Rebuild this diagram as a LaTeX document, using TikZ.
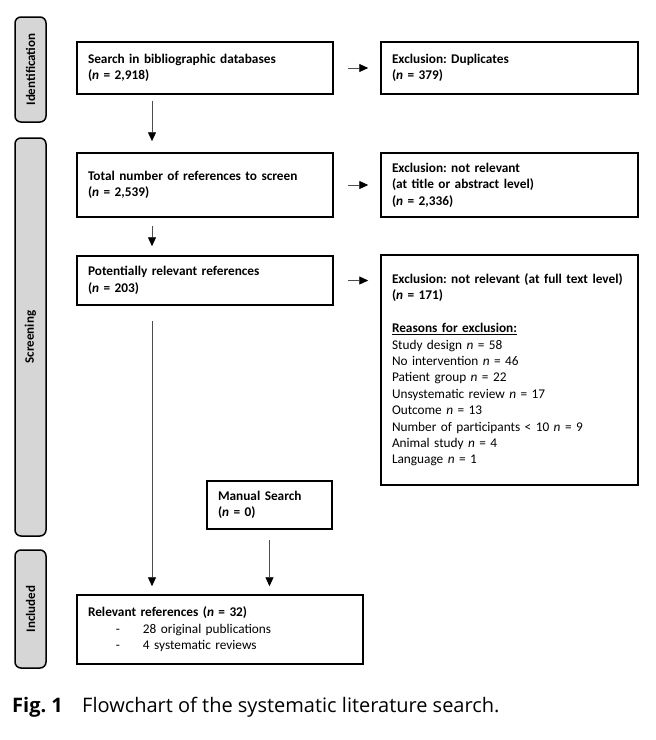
\documentclass[tikz,border=0pt]{standalone}
\usepackage{fontspec}
\setmainfont{Carlito}
\newfontfamily\capfont{Open Sans}
\usetikzlibrary{arrows.meta}
\definecolor{tabgray}{HTML}{D6D6D6}
\frenchspacing
\begin{document}
\begin{tikzpicture}[x=1pt,y=-1pt,
  box/.style={draw=black, line width=1.5pt, inner xsep=11pt, inner ysep=0pt, align=left,
    font=\fontsize{13.3}{16.4}\selectfont\bfseries},
  plainbox/.style={box, font=\fontsize{13.3}{16.4}\selectfont},
  tab/.style={draw=black, line width=1.5pt, fill=tabgray, rounded corners=6pt, rotate=90,
    minimum height=31pt, inner sep=0pt, font=\fontsize{13}{15}\selectfont\bfseries, text=black},
  arr/.style={draw=black!70, line width=0.9pt, -{Triangle[length=9pt,width=8pt,black]}},
]
\useasboundingbox (0,0) rectangle (656,740);

% phase tabs
\node[tab, minimum width=105pt] (tid) at (30.5,69.5) {Identification};
\node[tab, minimum width=398pt] (tsc) at (30.5,337) {Screening};
\node[tab, minimum width=118pt] (tin) at (30.5,609) {Included};

% boxes
\node[box, text width=234pt, minimum height=52pt] (b1) at (205,68)
  {Search in bibliographic databases\\(\textit{n} = 2,918)};
\node[box, text width=235pt, minimum height=52pt] (e1) at (509.5,68)
  {Exclusion: Duplicates\\(\textit{n} = 379)};
\node[box, text width=234pt, minimum height=64pt] (b2) at (205,185)
  {Total number of references to screen\\(\textit{n} = 2,539)};
\node[box, text width=235pt, minimum height=64pt] (e2) at (509.5,185)
  {Exclusion: not relevant\\(at title or abstract level)\\(\textit{n} = 2,336)};
\node[box, text width=234pt, minimum height=49pt] (b3) at (205,280.5)
  {Potentially relevant references\\(\textit{n} = 203)};
\node[plainbox, text width=235pt, minimum height=230pt] (e3) at (509.5,370)
  {\textbf{Exclusion: not relevant (at full text level)}\\
   \textbf{(\textit{n} = 171)}\\[16.4pt]
   \textbf{\underline{Reasons for exclusion:}}\\
   Study design \textit{n} = 58\\
   No intervention \textit{n} = 46\\
   Patient group \textit{n} = 22\\
   Unsystematic review \textit{n} = 17\\
   Outcome \textit{n} = 13\\
   Number of participants < 10 \textit{n} = 9\\
   Animal study \textit{n} = 4\\
   Language \textit{n} = 1};
\node[box, text width=103pt, minimum height=48pt] (m) at (269.5,505)
  {Manual Search\\(\textit{n} = 0)};
\node[plainbox, text width=264pt, minimum height=69pt] (r) at (220,629.5)
  {\textbf{Relevant references (\textit{n} = 32)}\\
   \makebox[55pt][l]{\hspace*{28pt}-}28 original publications\\
   \makebox[55pt][l]{\hspace*{28pt}-}4 systematic reviews};

% connectors
\coordinate (cx) at (152,0);
\draw[arr, shorten <=14pt, shorten >=12pt] (b1.east) -- (e1.west);
\draw[arr, shorten <=14pt, shorten >=12pt] (b2.east) -- (e2.west);
\draw[arr, shorten <=14pt, shorten >=12pt] (b3.east) -- (b3.east -| e3.west);
\draw[arr, shorten <=6pt, shorten >=11pt] (b1.south -| cx) -- (b2.north -| cx);
\draw[arr, shorten <=8pt, shorten >=9pt] (b2.south -| cx) -- (b3.north -| cx);
\draw[arr, shorten <=15pt, shorten >=8pt] (b3.south -| cx) -- (r.north -| cx);
\draw[arr, shorten <=10pt, shorten >=8pt] (m.south) -- (m.south |- r.north);

% caption
\node[anchor=base west, inner sep=0pt, font=\capfont\fontsize{20}{24}\selectfont\bfseries] (figl) at (12,712) {Fig. 1};
\node[anchor=base west, inner sep=0pt, font=\capfont\fontsize{20}{24}\selectfont] (figt) at (82,712) {Flowchart of the systematic literature search.};
\end{tikzpicture}
\end{document}
